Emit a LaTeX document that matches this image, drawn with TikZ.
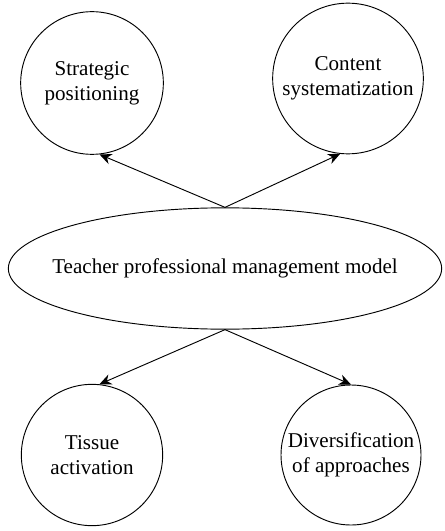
\documentclass[tikz,border=0pt]{standalone}
\usepackage{fontspec}
\setmainfont{Liberation Serif}
\usetikzlibrary{shapes.geometric,arrows.meta}

\begin{document}
\begin{tikzpicture}[x=0.75pt,y=0.75pt,yscale=-1,
  bubble/.style={draw,circle,line width=0.7pt,inner sep=0pt,align=center,
    font=\fontsize{15.8}{18.5}\selectfont},
  hub/.style={draw,ellipse,line width=0.7pt,inner xsep=-20pt,inner ysep=0pt,
    minimum width=325pt,minimum height=91pt,font=\fontsize{15.8}{18.5}\selectfont},
  link/.style={line width=0.7pt,-{Stealth[length=9pt,width=8pt]}}]

\useasboundingbox (0,0) rectangle (444,531);

\node [hub] (model) at (225,268.5) {Teacher professional management model};

\node [bubble,minimum size=107pt] (strat) at (92,83) {Strategic\\positioning};
\node [bubble,minimum size=113pt] (content) at (348,78.5) {Content\\systematization};
\node [bubble,minimum size=106pt] (tissue) at (92,455) {Tissue\\activation};
\node [bubble,minimum size=105pt] (divers) at (351,455) {Diversification\\of approaches};

\draw [link] (model.north) -- (strat.276);
\draw [link] (model.north) -- (content.264);
\draw [link] (model.south) -- (tissue.84);
\draw [link] (model.south) -- (divers.90);

\end{tikzpicture}
\end{document}
